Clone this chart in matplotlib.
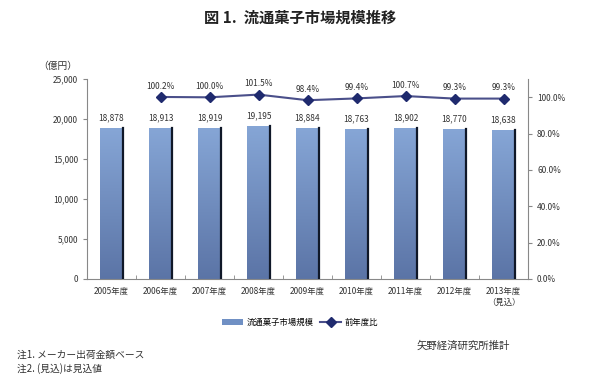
import matplotlib.pyplot as plt
import numpy as np
from matplotlib.ticker import FuncFormatter
from matplotlib.colors import LinearSegmentedColormap

plt.rcParams['font.family'] = ['Noto Sans CJK JP', 'DejaVu Sans']

# データ
nendo = ['2005年度', '2006年度', '2007年度', '2008年度', '2009年度',
         '2010年度', '2011年度', '2012年度', '2013年度\n（見込）']
shijou = [18878, 18913, 18919, 19195, 18884, 18763, 18902, 18770, 18638]
zennen_hi = [None, 100.2, 100.0, 101.5, 98.4, 99.4, 100.7, 99.3, 99.3]

fig = plt.figure(figsize=(6, 3.88), dpi=100)
ax = fig.add_axes([0.145, 0.281, 0.735, 0.515])
x = np.arange(len(nendo))
w = 0.45

# 棒グラフ（グラデーション）
bars = ax.bar(x, shijou, w, color='#7090c4', zorder=2, label='流通菓子市場規模')
grad = np.linspace(0, 1, 256).reshape(-1, 1)
cmap = LinearSegmentedColormap.from_list('b', ['#5b74a6', '#86a6d6'])
for b in bars:
    bx, by = b.get_x(), b.get_y()
    bw, bh = b.get_width(), b.get_height()
    im = ax.imshow(grad, cmap=cmap, aspect='auto', extent=[bx, bx + bw, by, by + bh],
                   zorder=2, origin='lower')
    im.set_clip_path(b)
    ax.plot([bx + bw, bx + bw], [by, by + bh], color='#101828', lw=1.6, zorder=3)
for xi, v in zip(x, shijou):
    ax.text(xi, v + 700, '{:,}'.format(v), ha='center', va='bottom', fontsize=6, color='#333333')

ax.set_xlim(-0.5, len(nendo) - 0.5)
ax.set_ylim(0, 25000)
ax.set_yticks(range(0, 25001, 5000))
ax.yaxis.set_major_formatter(FuncFormatter(lambda v, p: '{:,}'.format(int(v))))
ax.set_xticks(x)
ax.set_xticklabels(nendo, fontsize=6, color='#333333')
ax.set_xticks(np.arange(0.5, len(nendo) - 1, 1), minor=True)
ax.tick_params(axis='x', which='major', length=0, pad=6)
ax.tick_params(axis='x', which='minor', length=3, direction='in', color='#888888')
ax.tick_params(axis='y', labelsize=6, labelcolor='#333333', length=3, direction='out', color='#888888')
ax.spines['top'].set_visible(False)
ax.spines['right'].set_visible(False)
ax.spines['left'].set_color('#888888')
ax.spines['bottom'].set_color('#888888')

# 前年度比（右軸）
ax2 = ax.twinx()
xs = [xi for xi, v in zip(x, zennen_hi) if v is not None]
vs = [v for v in zennen_hi if v is not None]
ax2.plot(xs, vs, color='#4a4f8a', lw=1.5, marker='D', markersize=5.5,
         markerfacecolor='#1f2a6e', markeredgecolor='#1f2a6e', zorder=4, label='前年度比')
for xi, v in zip(xs, vs):
    ax2.text(xi, v + 3.5, '{:.1f}%'.format(v), ha='center', va='bottom', fontsize=6, color='#333333')
ax2.set_ylim(0, 110)
ax2.set_yticks(range(0, 101, 20))
ax2.yaxis.set_major_formatter(FuncFormatter(lambda v, p: '{:.1f}%'.format(v)))
ax2.tick_params(axis='y', labelsize=6, labelcolor='#333333', length=3, color='#888888')
for s in ['top', 'left', 'bottom']:
    ax2.spines[s].set_visible(False)
ax2.spines['right'].set_color('#888888')

fig.text(0.5, 0.955, '図 1.  流通菓子市場規模推移', ha='center', va='center',
         fontsize=11, fontweight='bold', color='#222222')
fig.text(0.063, 0.83, '（億円）', ha='left', va='center', fontsize=7, color='#333333')

h1, l1 = ax.get_legend_handles_labels()
h2, l2 = ax2.get_legend_handles_labels()
fig.legend(h1 + h2, l1 + l2, loc='center', bbox_to_anchor=(0.5, 0.17), ncol=2,
           fontsize=6, frameon=False, handlelength=2.5, columnspacing=0.8, handletextpad=0.4)

fig.text(0.85, 0.11, '矢野経済研究所推計', ha='right', va='center', fontsize=7.5, color='#333333')
fig.text(0.028, 0.085, '注1. メーカー出荷金額ベース', ha='left', va='center', fontsize=7, color='#333333')
fig.text(0.028, 0.05, '注2. (見込)は見込値', ha='left', va='center', fontsize=7, color='#333333')

fig.savefig('out.png', dpi=100)
